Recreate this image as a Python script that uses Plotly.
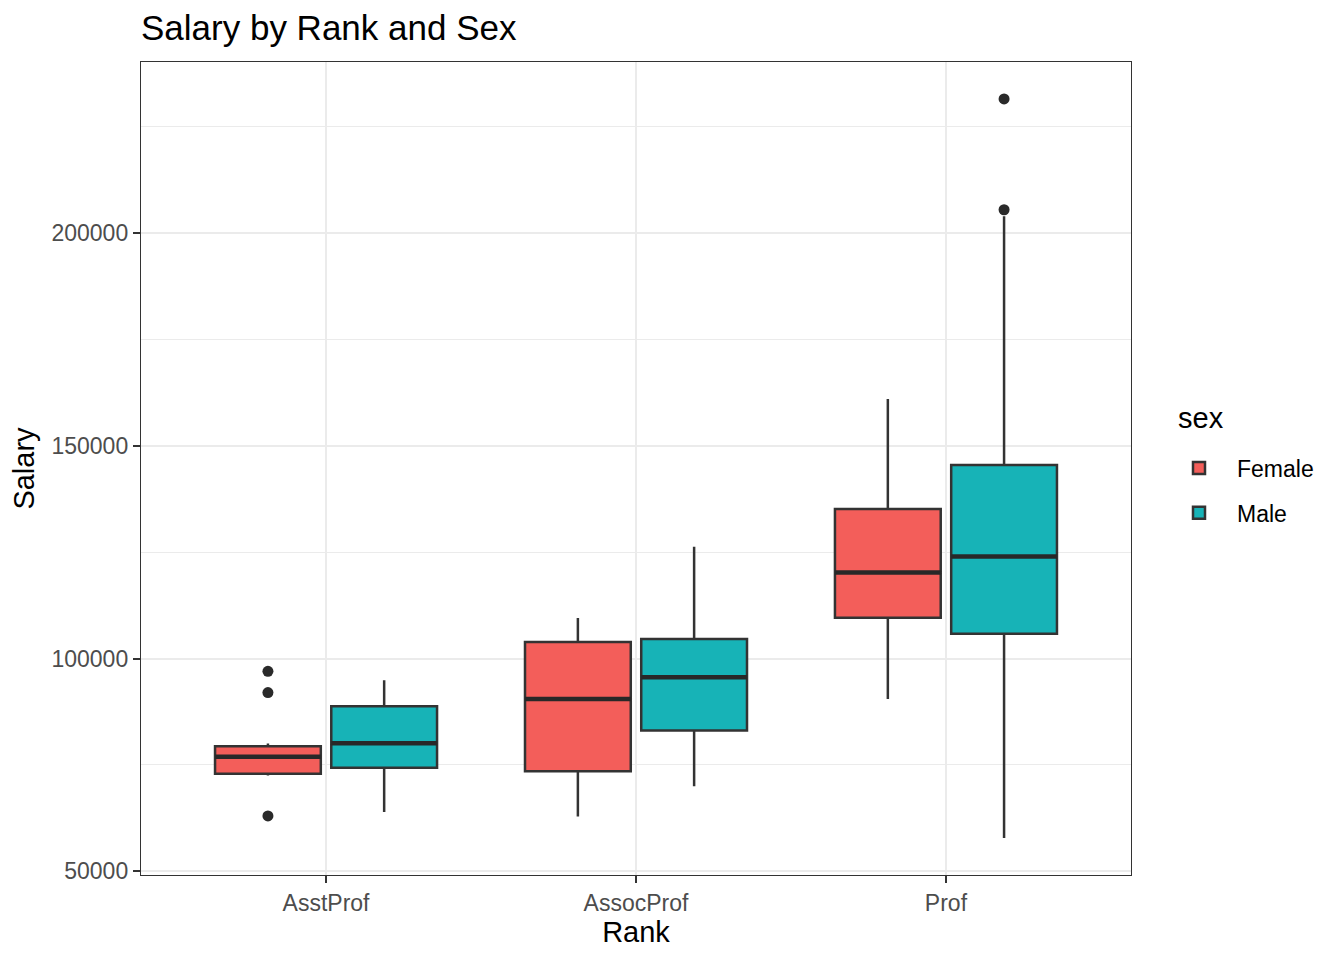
import plotly.graph_objects as go

# ---- data ----
ranks = ["AsstProf", "AssocProf", "Prof"]
sexes = ["Female", "Male"]

female_q1 = [72900, 73500, 109600]
female_median = [76900, 90500, 120250]
female_q3 = [79400, 103900, 135150]
female_lower = [72500, 62850, 90500]
female_upper = [80000, 109550, 161000]
female_out_rank = [0, 0, 0]
female_out_salary = [97000, 92000, 63000]

male_q1 = [74300, 83100, 105800]
male_median = [80100, 95600, 124000]
male_q3 = [88800, 104600, 145500]
male_lower = [63950, 70000, 57800]
male_upper = [94900, 126300, 204000]
male_out_rank = [2, 2]
male_out_salary = [205500, 231545]

colors = {"Female": "#F35E5A", "Male": "#17B3B7"}
line_col = "#333333"
FONT = "Liberation Sans, Arial, Helvetica, sans-serif"

BOXGAP = 0.25
BOXGROUPGAP = 0.09
offset = 0.25 * (1 - BOXGAP)
halfw = (1 - BOXGAP) * (1 - BOXGROUPGAP) / 4

xpos = list(range(len(ranks)))

stats = {
    "Female": (female_q1, female_median, female_q3, female_lower, female_upper,
               female_out_rank, female_out_salary, -offset),
    "Male": (male_q1, male_median, male_q3, male_lower, male_upper,
             male_out_rank, male_out_salary, offset),
}

fig = go.Figure()
for sex in sexes:
    q1, med, q3, lo, hi, orank, osal, off = stats[sex]
    fig.add_trace(go.Box(
        x=xpos, q1=q1, median=med, q3=q3, lowerfence=lo, upperfence=hi,
        name=sex, offsetgroup=sex, legendgroup=sex, fillcolor=colors[sex],
        line=dict(color=line_col, width=2.5), whiskerwidth=0,
        boxpoints=False, hoverinfo="y",
    ))

for sex in sexes:
    q1, med, q3, lo, hi, orank, osal, off = stats[sex]
    mx, my = [], []
    for i, m in zip(xpos, med):
        mx += [i + off - halfw, i + off + halfw, None]
        my += [m, m, None]
    fig.add_trace(go.Scatter(x=mx, y=my, mode="lines", legendgroup=sex,
                             line=dict(color="#282828", width=4.5),
                             showlegend=False, hoverinfo="skip"))
    fig.add_trace(go.Scatter(x=[r + off for r in orank], y=osal, mode="markers",
                             legendgroup=sex,
                             marker=dict(color="#2a2a2a", size=11),
                             showlegend=False))

fig.update_layout(
    width=1344, height=960,
    boxmode="group", boxgap=BOXGAP, boxgroupgap=BOXGROUPGAP,
    plot_bgcolor="white", paper_bgcolor="white",
    margin=dict(l=133, r=221, t=54, b=93),
    font=dict(family=FONT, color="black"),
    title=dict(text="Salary by Rank and Sex", x=133 / 1344, xref="container",
               xanchor="left", y=1 - 20 / 960, yref="container", yanchor="middle",
               font=dict(size=35, color="black", family=FONT)),
    legend=dict(font=dict(size=23, color="black"),
                x=1.0303, xanchor="left", y=0.473, yanchor="middle",
                itemwidth=66,
                bgcolor="rgba(0,0,0,0)", tracegroupgap=12),
    annotations=[dict(text="sex", xref="paper", yref="paper", x=1.0455, y=0.5621,
                      xanchor="left", yanchor="middle", showarrow=False,
                      font=dict(size=29, color="black"))],
)

fig.update_xaxes(
    range=[-0.597, 2.597], tickvals=xpos, ticktext=ranks,
    showgrid=True, gridcolor="#EBEBEB", gridwidth=2.3, zeroline=False,
    showline=True, mirror=True, linecolor=line_col, linewidth=1.4,
    ticks="outside", ticklen=7, tickwidth=1.6, tickcolor=line_col,
    tickfont=dict(size=23, color="#4D4D4D"),
    title=dict(text="Rank", font=dict(size=29, color="black"), standoff=4),
)
fig.update_yaxes(
    range=[49113, 240232], tickvals=[50000, 100000, 150000, 200000],
    ticktext=["50000", "100000", "150000", "200000"],
    showgrid=True, gridcolor="#EBEBEB", gridwidth=2.3, zeroline=False,
    minor=dict(tickvals=[75000, 125000, 175000, 225000], showgrid=True,
               gridcolor="#EBEBEB", gridwidth=1.2),
    showline=True, mirror=True, linecolor=line_col, linewidth=1.4,
    ticks="outside", ticklen=7, tickwidth=1.6, tickcolor=line_col,
    tickfont=dict(size=23, color="#4D4D4D"),
    title=dict(text="Salary", font=dict(size=29, color="black"), standoff=8),
)

fig.write_html("out.html")
